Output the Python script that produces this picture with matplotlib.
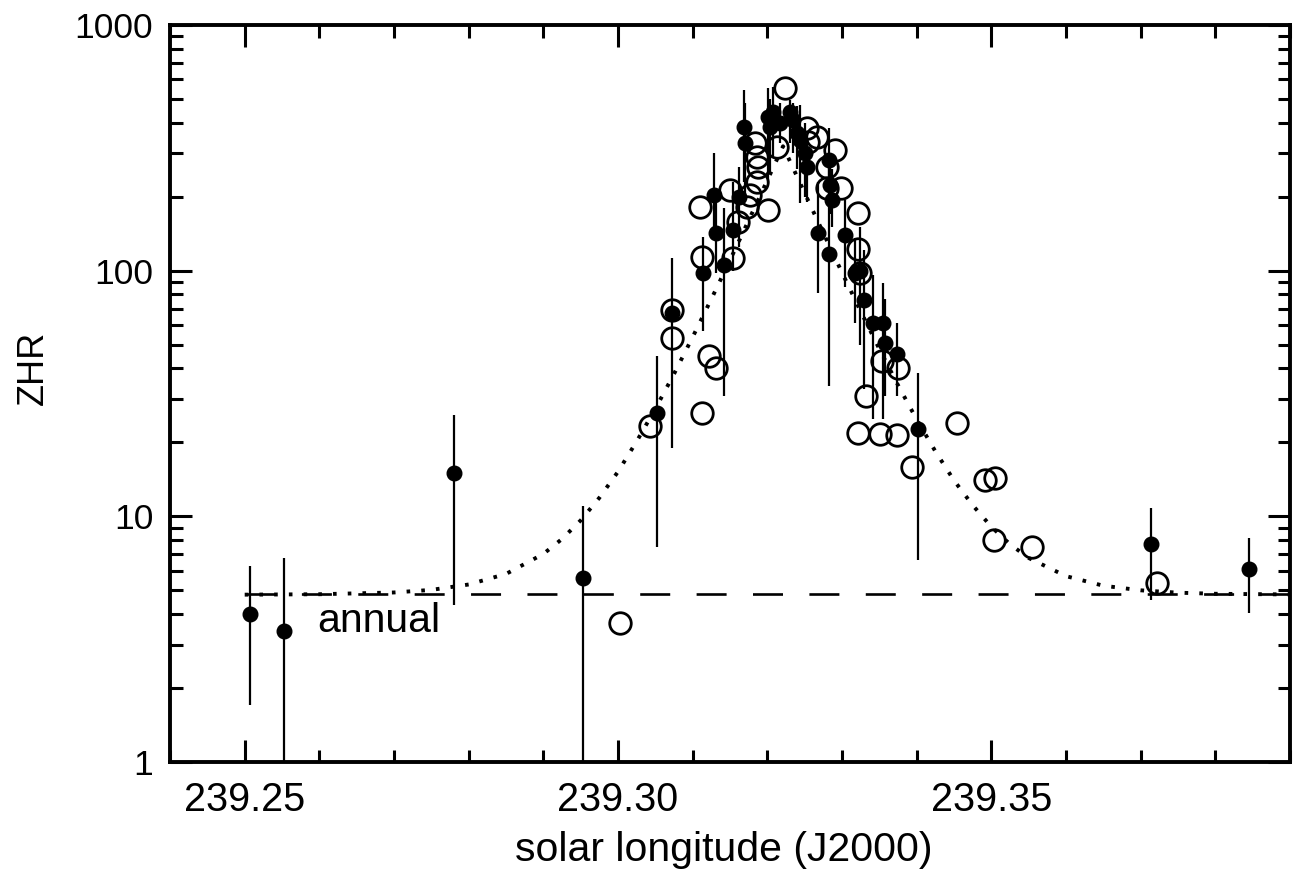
import matplotlib
matplotlib.use("Agg")
import matplotlib.pyplot as plt
from matplotlib.ticker import FixedLocator, NullFormatter, LogLocator

plt.rcParams['font.family'] = ['Liberation Sans', 'DejaVu Sans']
plt.rcParams['lines.scale_dashes'] = False

# ---- data ----
# filled circles with vertical error bars: solar longitude, ZHR, lower, upper
filled_x = [239.2507, 239.2552, 239.2780, 239.2953, 239.3052, 239.3072, 239.3114,
            239.3129, 239.3131, 239.3142, 239.3154, 239.3162, 239.3169, 239.3170,
            239.3201, 239.3208, 239.3204, 239.3217, 239.3231, 239.3235, 239.3240,
            239.3244, 239.3251, 239.3253, 239.3283, 239.3284, 239.3287, 239.3268,
            239.3283, 239.3304, 239.3318, 239.3324, 239.3330, 239.3342, 239.3355,
            239.3358, 239.3373, 239.3402, 239.3714, 239.3845]
filled_y = [4.0, 3.4, 15.0, 5.6, 26.3, 67, 98,
            204, 142, 105, 147, 199, 384, 331,
            422, 442, 384, 399, 442, 410, 363,
            340, 301, 264, 282, 223, 194, 142,
            117, 140, 98, 100, 76, 61, 61,
            51, 46, 22.7, 7.7, 6.1]
filled_lo = [1.7, 1.0, 4.35, 1.0, 7.5, 19, 57,
             142, 98, 31, 100, 125, 230, 200,
             227, 290, 250, 330, 331, 300, 260,
             188, 200, 190, 200, 170, 150, 81,
             34, 86, 61, 50, 33, 25, 25,
             31, 31, 6.64, 4.56, 4.04]
filled_hi = [6.3, 6.8, 25.8, 11.0, 45, 113, 137,
             301, 200, 180, 230, 265, 543, 480,
             553, 560, 500, 480, 495, 480, 470,
             472, 400, 350, 380, 290, 260, 230,
             301, 194, 136, 150, 121, 96, 89,
             77, 61, 38.3, 10.8, 8.2]

# open circles (no error bars)
open_x = [239.3003, 239.3043, 239.3072, 239.3072, 239.3110, 239.3113, 239.3113,
          239.3122, 239.3131, 239.3150, 239.3154, 239.3161, 239.3173, 239.3177,
          239.3186, 239.3188, 239.3186, 239.3184, 239.3201, 239.3213, 239.3223,
          239.3253, 239.3255, 239.3267, 239.3291, 239.3280, 239.3280, 239.3298,
          239.3322, 239.3322, 239.3324, 239.3332, 239.3354, 239.3375, 239.3322,
          239.3351, 239.3373, 239.3394, 239.3454, 239.3492, 239.3505, 239.3504,
          239.3555, 239.3722]
open_y = [3.68, 23.3, 69, 53, 181, 114, 26.3,
          45, 40, 213, 113, 158, 182, 203,
          229, 264, 290, 331, 176, 319, 553,
          380, 333, 350, 310, 264, 217, 217,
          171, 123, 98, 31, 43, 40, 21.8,
          21.6, 21.4, 15.9, 24.0, 14.06, 14.3, 8.0,
          7.5, 5.35]

# model profile (dotted)
model_x = [239.250, 239.260, 239.270, 239.275, 239.280, 239.285, 239.290, 239.2925,
           239.295, 239.2975, 239.300, 239.3025, 239.305, 239.3075, 239.310, 239.3125,
           239.315, 239.3175, 239.320, 239.3221, 239.325, 239.3275, 239.330, 239.3325,
           239.335, 239.3375, 239.340, 239.3425, 239.345, 239.3475, 239.350, 239.3525,
           239.355, 239.360, 239.365, 239.370, 239.375, 239.380, 239.390]
model_y = [4.80, 4.82, 4.90, 5.02, 5.28, 5.83, 7.03, 8.09,
           9.63, 11.9, 15.2, 20.2, 27.4, 38.0, 53.7, 76.7,
           110.4, 160.3, 233.4, 320.8, 206.9, 142.2, 98.2, 68.3,
           48.0, 34.2, 24.8, 18.4, 14.0, 11.1, 9.07, 7.70,
           6.77, 5.71, 5.22, 5.00, 4.89, 4.84, 4.81]

# annual (sporadic background) level
annual_x = [239.250, 239.390]
annual_y = [4.83, 4.83]

xticks = [239.25, 239.30, 239.35]
xtick_labels = ["239.25", "239.30", "239.35"]
yticks = [1, 10, 100, 1000]
ytick_labels = ["1", "10", "100", "1000"]

# ---- figure ----
fig = plt.figure(figsize=(13, 8.73), dpi=100)
ax = fig.add_axes([0.1308, 0.1271, 0.8615, 0.8443])
ax.set_yscale('log')
ax.set_xlim(239.24, 239.39)
ax.set_ylim(1, 1000)

ax.plot(annual_x, annual_y, color='black', lw=1.9, linestyle=(0, (21.6, 19.0)),
        zorder=2)
ax.plot(model_x, model_y, color='black', lw=2.8, linestyle=(0, (2.6, 8.0)),
        zorder=2)

yerr = [[y - lo for y, lo in zip(filled_y, filled_lo)],
        [hi - y for y, hi in zip(filled_y, filled_hi)]]
ax.errorbar(filled_x, filled_y, yerr=yerr, fmt='o', color='black',
            markersize=10.5, elinewidth=1.6, capsize=0, zorder=3)
ax.plot(open_x, open_y, 'o', markerfacecolor='none', markeredgecolor='black',
        markersize=15.5, markeredgewidth=2.0, linestyle='none', zorder=4)

ax.text(239.2597, 3.75, "annual", fontsize=29.5, va='center', ha='left')

ax.set_xticks(xticks)
ax.set_xticklabels(xtick_labels)
ax.xaxis.set_minor_locator(FixedLocator([239.24 + 0.01 * i for i in range(16)]))
ax.set_yticks(yticks)
ax.set_yticklabels(ytick_labels)
ax.yaxis.set_minor_locator(LogLocator(base=10, subs=range(2, 10)))
ax.yaxis.set_minor_formatter(NullFormatter())

ax.tick_params(which='both', direction='in', top=True, right=True, width=2.2)
ax.tick_params(axis='x', which='major', labelsize=28.5, pad=14)
ax.tick_params(axis='y', which='major', labelsize=25.5, pad=12)
ax.tick_params(which='major', length=16)
ax.tick_params(which='minor', length=9)
for s in ax.spines.values():
    s.set_linewidth(2.8)

ax.set_xlabel("solar longitude (J2000)", fontsize=29.5)
ax.set_ylabel("ZHR", fontsize=26)
ax.xaxis.set_label_coords(0.494, -0.094)
ax.yaxis.set_label_coords(-0.106, 0.535)

fig.savefig("out.png", dpi=100)
